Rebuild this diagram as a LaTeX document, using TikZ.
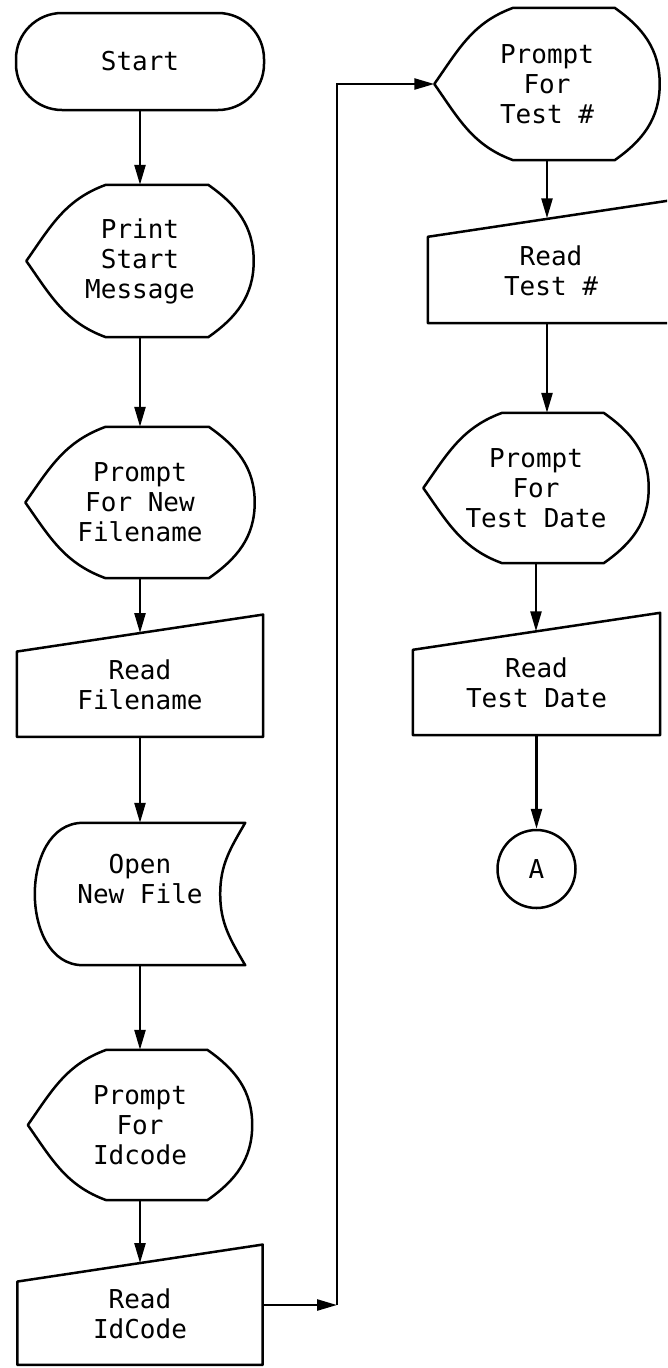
\documentclass[tikz,border=0pt]{standalone}
\usepackage{fontspec}
\setmonofont{DejaVu Sans Mono}
\usetikzlibrary{arrows.meta,calc}

% outlines drawn round a named node
\newcommand{\promptshape}[1]{%
  \draw[shapeline] (#1.west) to[out=55,in=200] ($(#1.north west)!.35!(#1.north east)$)
    -- ($(#1.north west)!.8!(#1.north east)$) to[out=-35,in=90] (#1.east)
    to[out=-90,in=35] ($(#1.south west)!.8!(#1.south east)$)
    -- ($(#1.south west)!.35!(#1.south east)$) to[out=160,in=-55] (#1.west) -- cycle;}
\newcommand{\inputshape}[1]{%
  \draw[shapeline] (#1.south west) -- ([yshift=-18.5pt]#1.north west)
    -- ([yshift=18.5pt]#1.north east) -- (#1.south east) -- cycle;}
\newcommand{\storeshape}[1]{%
  \draw[shapeline] (#1.north east) -- ($(#1.north west)!.23!(#1.north east)$)
    to[out=180,in=90] (#1.west) to[out=-90,in=180] ($(#1.south west)!.23!(#1.south east)$)
    -- (#1.south east) to[out=120,in=-90] ([xshift=-25pt]#1.east)
    to[out=90,in=-120] (#1.north east) -- cycle;}

\begin{document}
\begin{tikzpicture}[x=1pt,y=1pt,
    every node/.style={font=\ttfamily\fontsize{26}{30}\selectfont,align=center,inner sep=0pt},
    dims/.style 2 args={minimum width=#1,minimum height=#2},
    shapeline/.style={line width=2.5pt,line join=round},
    flow/.style={line width=2.5pt,-{Triangle[length=20pt,width=11pt]}},
    terminal/.style={draw,line width=2.5pt,rounded corners=46pt},
    connector/.style={draw,circle,line width=2.5pt,minimum size=78pt}]
  \useasboundingbox (0,0) rectangle (667,-1368);
  \clip (0,0) rectangle (667,-1368);

  % left column
  \node[terminal,dims={248pt}{97pt}] (start) at (140,-61.5) {Start};
  \node[dims={227pt}{152pt}] (print) at (140,-261) {Print\\Start\\Message};
  \node[dims={229pt}{151pt}] (prname) at (140,-502.5) {Prompt\\For New\\Filename};
  \node[dims={246pt}{103.5pt}] (rdname) at (140,-685) {Read\\Filename};
  \node[dims={210pt}{142pt}] (opfile) at (140,-894) {Open\\New File\\ };
  \node[dims={224pt}{150pt}] (pridc) at (140,-1125) {Prompt\\For\\Idcode};
  \node[dims={245pt}{101.5pt}] (rdidc) at (140,-1314) {Read\\IdCode};
  \promptshape{print}
  \promptshape{prname}
  \inputshape{rdname}
  \storeshape{opfile}
  \promptshape{pridc}
  \inputshape{rdidc}

  % right column
  \node[dims={225pt}{152pt}] (prtest) at (547,-84) {Prompt\\For\\Test \#};
  \node[dims={246pt}{104.5pt}] (rdtest) at (551,-270.75) {Read\\Test \#};
  \node[dims={225pt}{150pt}] (prdate) at (536,-488) {Prompt\\For\\Test Date};
  \node[dims={247pt}{103.5pt}] (rddate) at (536.5,-683.25) {Read\\Test Date};
  \node[connector] (a) at (536.5,-869) {A};
  \promptshape{prtest}
  \inputshape{rdtest}
  \promptshape{prdate}
  \inputshape{rddate}

  \draw[flow] (start) -- (print);
  \draw[flow] (print) -- (prname);
  \draw[flow] (prname) -- (rdname);
  \draw[flow] (rdname) -- (opfile);
  \draw[flow] (opfile) -- (pridc);
  \draw[flow] (pridc) -- (rdidc);

  \coordinate (turn) at (337,-1305);
  \draw[flow] ([yshift=9pt]rdidc.east) -- (turn);
  \draw[flow] (turn) |- (prtest.west);

  \draw[flow] (prtest) -- (prtest |- rdtest.north);
  \draw[flow] (rdtest.south -| prtest) -- (prdate.north -| prtest);
  \draw[flow] (prdate) -- (prdate |- rddate.north);
  \draw[flow] (rddate) -- (a);
\end{tikzpicture}
\end{document}
